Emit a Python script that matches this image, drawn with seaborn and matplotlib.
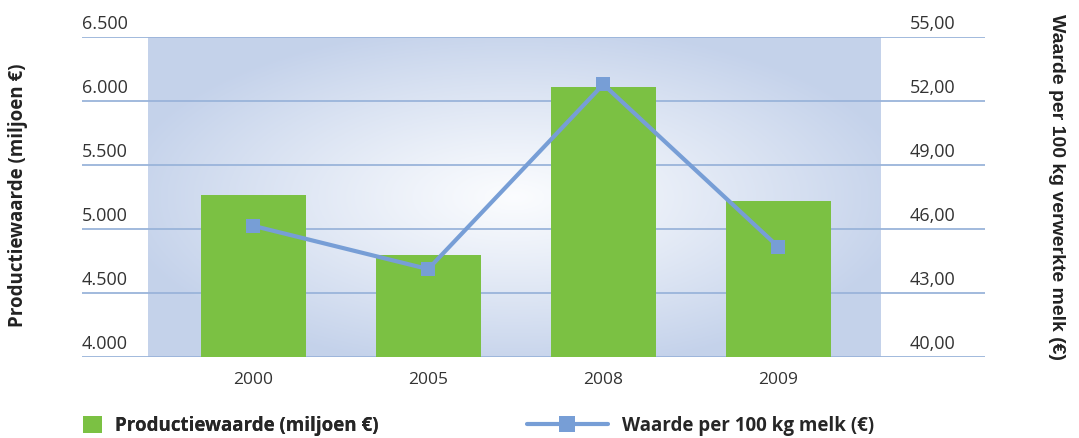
import numpy as np
import pandas as pd
import seaborn as sns
import matplotlib.pyplot as plt
import matplotlib.transforms as mtransforms
from matplotlib.patches import Patch
from matplotlib.lines import Line2D

years = ["2000", "2005", "2008", "2009"]
productiewaarde = [5265, 4800, 6110, 5220]
waarde_100kg = [46.15, 44.12, 52.78, 45.16]
left_ticks = [4000, 4500, 5000, 5500, 6000, 6500]
left_labels = ["4.000", "4.500", "5.000", "5.500", "6.000", "6.500"]
right_ticks = [40, 43, 46, 49, 52, 55]
right_labels = ["40,00", "43,00", "46,00", "49,00", "52,00", "55,00"]

bar_color = "#7bc143"
line_color = "#779ed6"
grid_color = "#9ab4da"

sns.set_theme(style="white")
plt.rcParams["font.family"] = ["Open Sans", "DejaVu Sans"]

df = pd.DataFrame({"jaar": years, "prod": productiewaarde, "waarde": waarde_100kg})
df["pos"] = np.arange(len(years))

fig = plt.figure(figsize=(10.79, 4.38), dpi=100)
ax = fig.add_axes([82 / 1079, 1 - 357 / 438, 903 / 1079, 320 / 438])

# radial gradient background of the plot area
bg_x = (-0.6, 3.583)
nx, ny = 400, 200
gx, gy = np.meshgrid(np.linspace(-1, 1, nx), np.linspace(-1, 1, ny))
r = np.clip(np.sqrt(gx ** 2 + gy ** 2) / np.sqrt(2) * 1.3, 0, 1) ** 1.1
edge = np.array([0.770, 0.824, 0.920])
center = np.array([0.985, 0.990, 0.998])
img = center[None, None, :] * (1 - r[..., None]) + edge[None, None, :] * r[..., None]
ax.imshow(img, extent=[bg_x[0], bg_x[1], 4000, 6500], aspect="auto", zorder=0)

for v in left_ticks:
    ax.axhline(v, color=grid_color, lw=1.3, zorder=1)

sns.barplot(data=df, x="pos", y="prod", color=bar_color, width=0.6, saturation=1,
            native_scale=True, ax=ax, zorder=2, linewidth=0, edgecolor="none")

ax.set_xlim(-0.977, 4.18)
ax.set_ylim(4000, 6500)
ax.set_xticks(df["pos"], years)
ax.set_yticks([])
ax.tick_params(axis="x", length=0, pad=11, labelsize=12.5, colors="#333333")
ax.set_xlabel("")
ax.set_ylabel("")
for s in ax.spines.values():
    s.set_visible(False)

ax2 = ax.twinx()
sns.lineplot(data=df, x="pos", y="waarde", color=line_color, lw=3, marker="s",
             markersize=10, markeredgewidth=0, ax=ax2, zorder=3, legend=False)
ax2.set_ylim(40, 55)
ax2.set_xlim(-0.977, 4.18)
ax2.set_yticks([])
ax2.set_ylabel("")
ax2.set_xlabel("")
for s in ax2.spines.values():
    s.set_visible(False)

# tick labels sit above the grid lines
off = mtransforms.ScaledTranslation(0, 4 / 100, fig.dpi_scale_trans)
tl = mtransforms.blended_transform_factory(ax.transAxes, ax.transData) + off
for v, lab in zip(left_ticks, left_labels):
    ax.text(0, v, lab, transform=tl, ha="left", va="bottom", fontsize=13, color="#333333")
tr = mtransforms.blended_transform_factory(ax2.transAxes, ax2.transData) + off
for v, lab in zip(right_ticks, right_labels):
    ax2.text(0.967, v, lab, transform=tr, ha="right", va="bottom", fontsize=13, color="#333333")

fig.text(18 / 1079, 1 - 195 / 438, "Productiewaarde (miljoen €)", rotation=90,
         ha="center", va="center", fontsize=13.5, fontweight="bold", color="#222222")
fig.text(1057 / 1079, 1 - 187 / 438, "Waarde per 100 kg verwerkte melk (€)", rotation=-90,
         ha="center", va="center", fontsize=14, fontweight="bold", color="#222222",
         family="Liberation Sans")

h1 = Patch(facecolor=bar_color, edgecolor="none")
h2 = Line2D([], [], color=line_color, lw=3, marker="s", markersize=12, markeredgewidth=0)
leg1 = fig.legend([h1], ["Productiewaarde (miljoen €)"], loc="center left",
                  bbox_to_anchor=(66 / 1079, 1 - 426 / 438), frameon=False,
                  handlelength=1.0, handleheight=1.0, handletextpad=0.7,
                  prop={"size": 13.5, "weight": "bold"})
leg2 = fig.legend([h2], ["Waarde per 100 kg melk (€)"], loc="center left",
                  bbox_to_anchor=(510 / 1079, 1 - 426 / 438), frameon=False,
                  handlelength=4.3, handletextpad=0.8,
                  prop={"size": 13.5, "weight": "bold"})
fig.add_artist(leg1)

fig.savefig("out.png", dpi=100)
